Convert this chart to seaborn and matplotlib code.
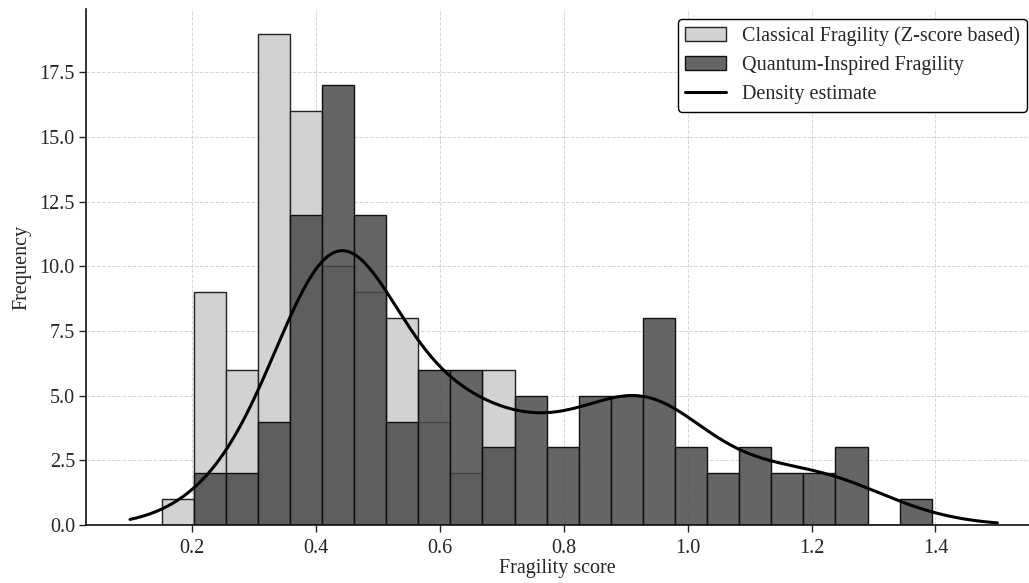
import numpy as np
import pandas as pd
import matplotlib
matplotlib.use("Agg")
import matplotlib.pyplot as plt
import seaborn as sns

# Bin layout (24 equal bins)
bin_start = 0.151
bin_end = 1.394
n_bins = 24

classical_counts = [1, 9, 6, 19, 16, 10, 9, 8, 4, 2, 6, 0,
                    0, 0, 0, 0, 0, 0, 0, 0, 0, 0, 0, 0]
quantum_counts = [0, 2, 2, 4, 12, 17, 12, 4, 6, 6, 3, 5,
                  3, 5, 5, 8, 3, 2, 3, 2, 2, 3, 0, 1]

labels = ["Classical Fragility (Z-score based)", "Quantum-Inspired Fragility", "Density estimate"]
kde_range = (0.1, 1.5)

sns.set_style("ticks")
plt.rcParams['font.family'] = ['Liberation Serif', 'DejaVu Serif']

edges = np.linspace(bin_start, bin_end, n_bins + 1)
centers = (edges[:-1] + edges[1:]) / 2
width = edges[1] - edges[0]

df = pd.DataFrame({"score": centers, "classical": classical_counts, "quantum": quantum_counts})

fig = plt.figure(figsize=(10.29, 5.83), dpi=100)
ax = fig.add_axes([0.0836, 0.0995, 0.9164, 0.885])

sns.histplot(data=df, x="score", weights="classical", bins=n_bins, binrange=(bin_start, bin_end),
             color="#d0d0d0", alpha=0.95, edgecolor="#222222", linewidth=1.0, ax=ax, label=labels[0])
sns.histplot(data=df, x="score", weights="quantum", bins=n_bins, binrange=(bin_start, bin_end),
             color="#4a4a4a", alpha=0.85, edgecolor="#111111", linewidth=1.0, ax=ax, label=labels[1])

# Gaussian KDE of quantum scores (weighted by bin counts), scaled to counts
w = np.array(quantum_counts, dtype=float)
n = w.sum()
mean = np.sum(w * centers) / n
std = np.sqrt(np.sum(w * (centers - mean) ** 2) / n)
bw = std * n ** (-1 / 5) * 0.75
xs = np.linspace(kde_range[0], kde_range[1], 400)
dens = np.sum(w[None, :] * np.exp(-0.5 * ((xs[:, None] - centers[None, :]) / bw) ** 2), axis=1)
dens = dens / (n * bw * np.sqrt(2 * np.pi))
ys = dens * n * width
sns.lineplot(x=xs, y=ys, color="black", linewidth=2.2, ax=ax, label=labels[2])

ax.set_xlim(0.029, 1.551)
ax.set_ylim(0, 19.95)
ax.set_xticks([0.2, 0.4, 0.6, 0.8, 1.0, 1.2, 1.4])
ax.set_yticks(np.arange(0, 18, 2.5))
ax.grid(True, linestyle="--", linewidth=0.7, color="#cccccc", alpha=0.8)
ax.set_axisbelow(True)
sns.despine(ax=ax)
fs = 14.5
ax.tick_params(labelsize=fs, length=5, width=1.0, color="#222222", pad=3)
ax.tick_params(axis="x", pad=5)
ax.set_xlabel("Fragility score", fontsize=fs, labelpad=1)
ax.set_ylabel("Frequency", fontsize=fs, labelpad=6)
for s in ["left", "bottom"]:
    ax.spines[s].set_color("#111111")
    ax.spines[s].set_linewidth(1.2)

handles, labs = ax.get_legend_handles_labels()
order = [labs.index(l) for l in labels]
leg = ax.legend([handles[i] for i in order], [labs[i] for i in order],
                loc="upper right", bbox_to_anchor=(0.998, 0.98), fontsize=fs, frameon=True,
                fancybox=True, edgecolor="black", framealpha=1.0, borderpad=0.35,
                handlelength=2.05, handletextpad=0.8, labelspacing=0.5, borderaxespad=0.0)
leg.get_frame().set_linewidth(1.0)

fig.savefig("out.png", dpi=100)
